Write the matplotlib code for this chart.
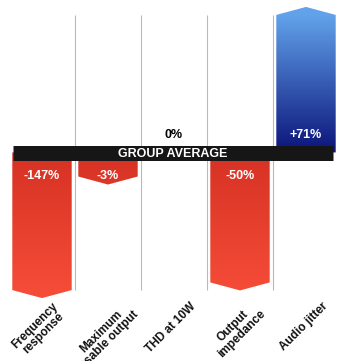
import numpy as np
import matplotlib
matplotlib.use("Agg")
import matplotlib.pyplot as plt
from matplotlib.path import Path
from matplotlib.colors import to_rgb

# Difference from the group average, in percent
categories = ["Frequency\nresponse", "Maximum\nusable output", "THD at 10W",
              "Output\nimpedance", "Audio jitter"]
changes = [-147, -3, 0, -50, 71]
band_label = "GROUP AVERAGE"

plt.rcParams["font.family"] = ["Liberation Sans", "DejaVu Sans"]

CAP = 55          # bars longer than this are drawn at the cap
TIP_PX = 8        # height of the arrow point on each bar
POWER = 0.6       # compressive power scale for the value axis


def fwd(v):
    v = np.asarray(v, dtype=float)
    return np.sign(v) * np.abs(v) ** POWER


def inv(u):
    u = np.asarray(u, dtype=float)
    return np.sign(u) * np.abs(u) ** (1 / POWER)


fig = plt.figure(figsize=(3.44, 3.61), dpi=100)
fig.patch.set_facecolor("white")
ax = fig.add_axes([9 / 344, (361 - 305) / 361, 330 / 344, 305 / 361])
ax.set_yscale("function", functions=(fwd, inv))
XLIM = (-0.5, len(changes) - 0.5)
YLIM = (-65.3, 65.3)
ax.set_xlim(*XLIM)
ax.set_ylim(*YLIM)
ax.axis("off")

# column separators
ax.vlines(np.arange(len(changes) - 1) + 0.5, -CAP, CAP,
          color="#b9b9b9", lw=0.8, zorder=1)

# bar outlines with arrow points, built in data space
paths = []
half = 0.45
for i, v in enumerate(changes):
    if v == 0:
        continue
    shown = float(np.clip(v, -CAP, CAP))
    p = ax.transData.transform([(i, shown)])[0]
    p[1] += np.sign(v) * TIP_PX
    tip_y = ax.transData.inverted().transform([p])[0][1]
    verts = [(i - half, 0), (i - half, shown), (i, tip_y),
             (i + half, shown), (i + half, 0), (i - half, 0)]
    codes = [Path.MOVETO] + [Path.LINETO] * 4 + [Path.CLOSEPOLY]
    paths.append(Path(verts, codes))
bars_path = Path.make_compound_path(*paths)

# vertical colour gradient: blue above the average, red below
rows = 600
t = np.linspace(0, 1, rows)
span = 0.5 - 15 / 305
blue_dark, blue_light = np.array(to_rgb("#0b137a")), np.array(to_rgb("#62a2ea"))
red_top, red_bottom = np.array(to_rgb("#d63124")), np.array(to_rgb("#f44c37"))
img = np.zeros((rows, 1, 3))
for k, tk in enumerate(t):
    if tk >= 0.5:
        f = np.clip((tk - 0.5) / span, 0, 1)
        img[k, 0] = blue_dark + f * (blue_light - blue_dark)
    else:
        f = np.clip((0.5 - tk) / span, 0, 1)
        img[k, 0] = red_top + f * (red_bottom - red_top)

im = ax.imshow(img, extent=[0, 1, 0, 1], transform=ax.transAxes,
               origin="lower", aspect="auto", interpolation="bilinear", zorder=2)
im.set_clip_path(bars_path, transform=ax.transData)
ax.set_xlim(*XLIM)
ax.set_ylim(*YLIM)

# the group-average band
ax.axhline(0, xmin=4 / 330, xmax=324 / 330, color="#161616",
           lw=15 * 72 / 100, solid_capstyle="butt", zorder=3)
ax.text(1.98, 0, band_label, ha="center", va="center_baseline",
        color="white", fontsize=9, fontweight="bold", zorder=4)

# value labels
for i, v in enumerate(changes):
    txt = f"+{v}%" if v > 0 else f"{v}%"
    dy = -17 if v < 0 else 12.5
    ax.annotate(txt, (i, 0), xytext=(0, dy), textcoords="offset points",
                ha="center", va="center", fontsize=9, fontweight="bold",
                color="black" if v == 0 else "white", zorder=5,
                annotation_clip=False)

# category labels
xt = ax.get_xaxis_transform()
for i, cat in enumerate(categories):
    ax.text(i - 0.04, 5 / 305, cat, transform=xt, rotation=45,
            ha="center", va="top", multialignment="center",
            fontsize=8.5, fontweight="bold", linespacing=0.95,
            color="#111111", clip_on=False)

fig.savefig("out.png", dpi=100)
